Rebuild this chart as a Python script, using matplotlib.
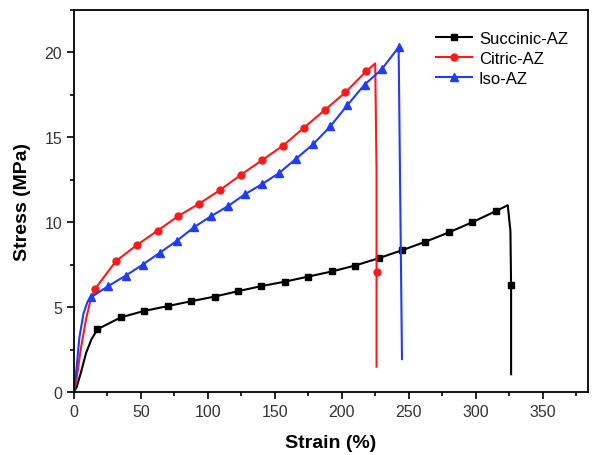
import matplotlib.pyplot as plt
from matplotlib.ticker import MultipleLocator

plt.rcParams['font.family'] = ['Liberation Sans', 'DejaVu Sans']

# Succinic-AZ (black squares)
succ_strain = [0, 2, 5, 9, 13, 17.5, 35, 52.5, 70, 87.5, 105, 122.5, 140, 157.5, 175,
               192.5, 210, 227.5, 245, 262.5, 280, 297.5, 315, 324, 326, 326.5, 326.5]
succ_stress = [0, 0.3, 1.1, 2.3, 3.1, 3.7, 4.4, 4.78, 5.06, 5.35, 5.62, 5.94, 6.24, 6.5, 6.8,
               7.1, 7.45, 7.88, 8.35, 8.85, 9.4, 10.0, 10.65, 11.0, 9.5, 6.3, 1.05]
succ_marks = list(range(5, 23)) + [25]

# Citric-AZ (red circles)
cit_strain = [0, 2, 5, 9, 12, 15.6, 31.2, 46.8, 62.4, 78, 93.6, 109.2, 124.8, 140.4, 156,
              171.6, 187.2, 202.8, 218.4, 225, 226, 226, 226]
cit_stress = [0, 0.8, 2.5, 4.3, 5.3, 6.06, 7.7, 8.65, 9.5, 10.37, 11.1, 11.9, 12.8, 13.65, 14.5,
              15.55, 16.6, 17.65, 18.9, 19.35, 13.0, 7.05, 1.5]
cit_marks = list(range(5, 19)) + [21]

# Iso-AZ (blue triangles)
iso_strain = [0, 2, 4, 7, 10, 13, 25.75, 38.5, 51.25, 64, 76.75, 89.5, 102.25, 115, 127.75,
              140.5, 153.25, 166, 178.75, 191.5, 204.25, 217, 229.75, 242.5, 245]
iso_stress = [0, 1.5, 3.2, 4.6, 5.3, 5.6, 6.25, 6.85, 7.5, 8.2, 8.9, 9.7, 10.35, 10.95, 11.65,
              12.25, 12.9, 13.75, 14.6, 15.65, 16.9, 18.1, 19.0, 20.3, 1.94]
iso_marks = list(range(5, 24))

fig = plt.figure(figsize=(5.94, 4.56), dpi=100)
ax = fig.add_axes([0.1246, 0.138, 0.8654, 0.838])

ax.plot(succ_strain, succ_stress, color='black', lw=1.5, marker='s', ms=4.5,
        markevery=succ_marks, label='Succinic-AZ')
ax.plot(cit_strain, cit_stress, color='#ff1a1a', lw=1.5, marker='o', ms=5,
        markevery=cit_marks, label='Citric-AZ')
ax.plot(iso_strain, iso_stress, color='#1f3cff', lw=1.5, marker='^', ms=5.5,
        markevery=iso_marks, label='Iso-AZ')

ax.set_xlim(0, 384)
ax.set_ylim(0, 22.5)
ax.xaxis.set_major_locator(MultipleLocator(50))
ax.xaxis.set_minor_locator(MultipleLocator(25))
ax.yaxis.set_major_locator(MultipleLocator(5))
ax.yaxis.set_minor_locator(MultipleLocator(2.5))
ax.tick_params(which='major', direction='out', length=5, width=1.2, labelsize=11.5,
               labelcolor='#333333')
ax.tick_params(which='minor', direction='out', length=3, width=1.2)
for s in ax.spines.values():
    s.set_linewidth(1.3)

ax.set_xlabel('Strain (%)', fontsize=14, fontweight='bold', labelpad=11)
ax.set_ylabel('Stress (MPa)', fontsize=14, fontweight='bold', labelpad=10)

ax.legend(loc='upper right', bbox_to_anchor=(0.99, 0.985), frameon=False, fontsize=12,
          handlelength=2.2, handletextpad=0.4, labelspacing=0.3)

fig.savefig('out.png', dpi=100)
